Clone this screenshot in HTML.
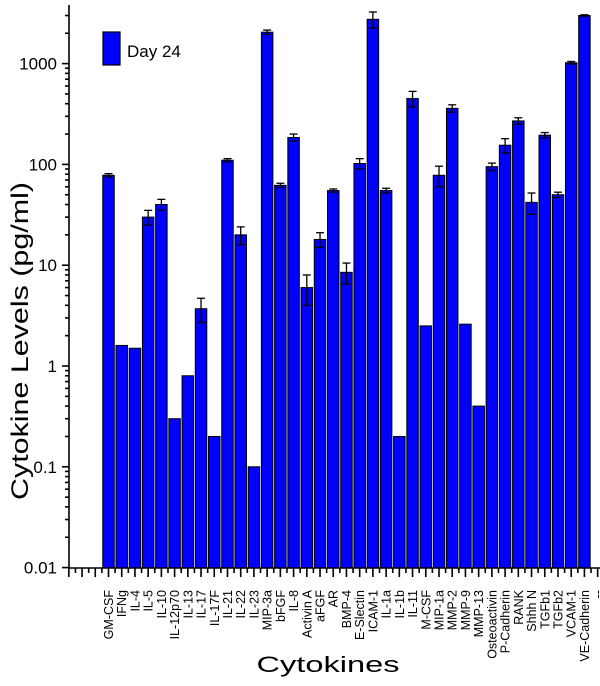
<!DOCTYPE html>
<html><head><meta charset="utf-8"><style>
html,body{margin:0;padding:0;background:#fff;}
svg{display:block;font-family:"Liberation Sans",Arial,sans-serif;}
</style></head><body>
<svg id="chart" width="600" height="686" viewBox="0 0 600 686" xmlns="http://www.w3.org/2000/svg">
<g id="grid"></g>
</svg>
<script>
const categories = ["GM-CSF","IFNg","IL-4","IL-5","IL-10","IL-12p70","IL-13","IL-17","IL-17F","IL-21","IL-22","IL-23","MIP-3a","bFGF","IL-8","Activin A","aFGF","AR","BMP-4","E-Slectin","ICAM-1","IL-1a","IL-1b","IL-11","M-CSF","MIP-1a","MMP-2","MMP-9","MMP-13","Osteoactivin","P-Cadherin","RANK","Shhh N","TGFb1","TGFb2","VCAM-1","VE-Cadherin","--"];
const values = [78,1.6,1.5,30,40,0.3,0.8,3.7,0.2,110,20,0.1,2050,62,185,6,18,55,8.5,102,2750,55,0.2,450,2.5,78,360,2.6,0.4,95,155,270,42,195,50,1020,3000,null];
const errors = [3,0,0,5,5,0,0,1,0,4,4,0,100,3,15,2,3,2,2,12,500,3,0,80,0,18,30,0,0,8,25,20,10,12,3,30,50,0];
const yTicks = [0.01,0.1,1,10,100,1000];
const yTickLabels = ["0.01","0.1","1","10","100","1000"];

const NS="http://www.w3.org/2000/svg";
const svg=document.getElementById('chart');
const x0=69, x1=600, yBot=568, yTop=5;
const slot=13.22, firstC=108.5, barW=11.5;
const decade=100.8, y1=366;
function xPos(i){return firstC+i*slot;}
function yPos(v){return y1-decade*Math.log10(v);}
function mk(tag,attrs,parent){const e=document.createElementNS(NS,tag);for(const k in attrs)e.setAttribute(k,attrs[k]);(parent||svg).appendChild(e);return e;}

const barsG=mk('g',{});


values.forEach((v,i)=>{
  if(v==null)return;
  const cx=xPos(i), yt=yPos(v);
  const r=mk('rect',{x:cx-barW/2,y:yt,width:barW,height:yBot-yt,fill:'#0000ff',stroke:'#000','stroke-width':1},barsG);
  
  
  const e=errors[i];
  if(e>0){
    const eg=mk('g',{stroke:'#000','stroke-width':1.3},barsG);
    
    
    const ya=yPos(v+e), yb=yPos(Math.max(v-e,v*0.05));
    mk('line',{x1:cx,x2:cx,y1:ya,y2:yb},eg);
    mk('line',{x1:cx-4,x2:cx+4,y1:ya,y2:ya},eg);
    mk('line',{x1:cx-4,x2:cx+4,y1:yb,y2:yb},eg);
  }
});

const ax=mk('g',{stroke:'#000','stroke-width':1.6});


mk('line',{x1:x0,x2:x0,y1:yTop,y2:yBot+1},ax);
mk('line',{x1:x0,x2:x1,y1:yBot,y2:yBot},ax);
for(let d=-2;d<=3;d++){
  for(let m=1;m<=9;m++){
    const v=m*Math.pow(10,d);const y=yPos(v);
    if(y<yTop)continue;
    mk('line',{x1:m==1?x0-7:x0-4,x2:x0,y1:y,y2:y},ax);
  }
}
const yl=mk('g',{'font-size':17,fill:'#000','text-anchor':'end'});


yTicks.forEach((t,i)=>{const tx=mk('text',{x:57,y:yPos(t)+6},yl);tx.textContent=yTickLabels[i];});
for(let k=-3;k<=37;k++){
  mk('line',{x1:xPos(k),x2:xPos(k),y1:yBot,y2:yBot+9},ax);
  if(k<37) mk('line',{x1:xPos(k+0.5),x2:xPos(k+0.5),y1:yBot,y2:yBot+5},ax);
}
const xl=mk('g',{'font-size':12.5,fill:'#000','text-anchor':'end'});


categories.forEach((c,i)=>{const cx=xPos(i)+4.5;const t=mk('text',{x:cx,y:590,transform:`rotate(-90 ${cx} 590)`},xl);t.textContent=c;});
const yt=mk('text',{x:28,y:341,'font-size':24,'text-anchor':'middle',textLength:318,lengthAdjust:'spacingAndGlyphs',transform:'rotate(-90 28 341)'});
yt.textContent='Cytokine Levels (pg/ml)';


const xt=mk('text',{x:328,y:672,'font-size':22,'text-anchor':'middle',textLength:143,lengthAdjust:'spacingAndGlyphs'});
xt.textContent='Cytokines';


const lg=mk('g',{});


mk('rect',{x:103,y:32,width:17,height:33,fill:'#0000ff',stroke:'#000','stroke-width':1.2},lg);
const lt=mk('text',{x:127,y:57,'font-size':17},lg);lt.textContent='Day 24';
</script>
</body></html>
